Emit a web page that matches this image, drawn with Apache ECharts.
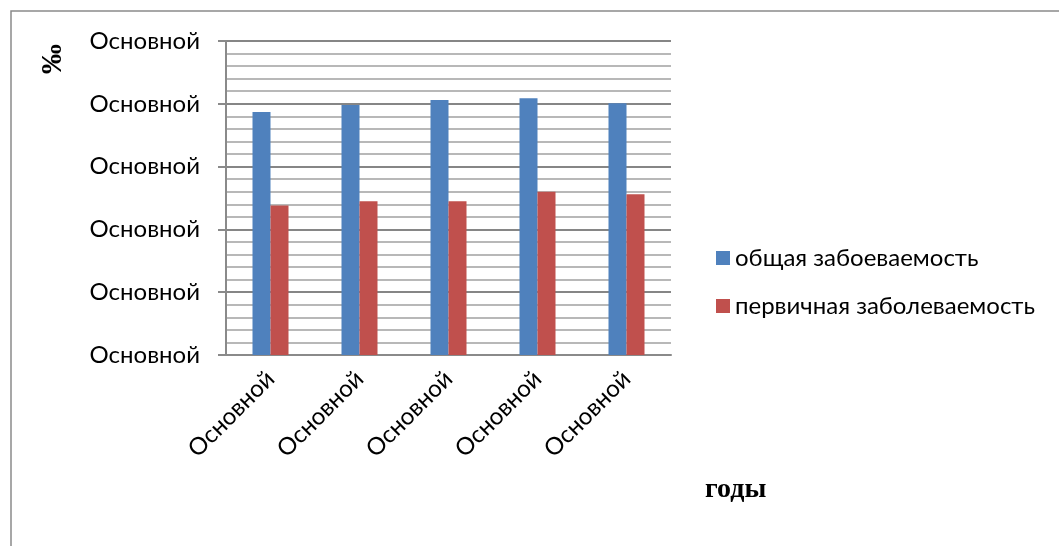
<!DOCTYPE html>
<html>
<head>
<meta charset="utf-8">
<script src="https://cdn.jsdelivr.net/npm/echarts@6/dist/echarts.min.js"></script>
<style>
    html, body { margin: 0; padding: 0; background: #fff; }
    #chart { width: 1059px; height: 546px; }
</style>
</head>
<body>
<div id="chart"></div>
<script>
    // категории (подписи в исходнике сломаны, везде "Основной")
    var years = ['Основной', 'Основной', 'Основной', 'Основной', 'Основной'];
    var obshaya = [3.87, 3.98, 4.06, 4.09, 4.01];
    var pervichnaya = [2.38, 2.45, 2.45, 2.60, 2.56];
    var yTickLabel = 'Основной';

    var chart = echarts.init(document.getElementById('chart'));
    var option = {
        animation: false,
        textStyle: {fontFamily: 'Lato'},
        graphic: [
            {
                type: 'rect',
                shape: {x: 11, y: 11, width: 1200, height: 700},
                style: {fill: 'none', stroke: '#8a8a8a', lineWidth: 1.5}
            },
            {
                type: 'text',
                x: 53, y: 59,
                rotation: Math.PI / 2,
                style: {
                    text: '‰', fill: '#000',
                    font: 'bold 30px "Liberation Serif"',
                    align: 'center', verticalAlign: 'middle'
                }
            },
            {
                type: 'text',
                left: 705, top: 476,
                style: {
                    text: 'годы', fill: '#000',
                    font: 'bold 28px "Liberation Serif"'
                }
            }
        ],
        legend: {
            orient: 'vertical',
            left: 711,
            top: 241,
            itemWidth: 14,
            itemHeight: 14,
            itemGap: 24,
            icon: 'rect',
            textStyle: {fontSize: 24, color: '#000', fontFamily: 'Lato'},
            data: ['общая забоеваемость', 'первичная заболеваемость']
        },
        grid: {left: 226, top: 41, width: 445, height: 314},
        xAxis: {
            type: 'category',
            data: years,
            axisLine: {lineStyle: {color: '#8a8a8a', width: 2}},
            axisTick: {show: false},
            axisLabel: {rotate: 45, fontSize: 24, color: '#000', margin: 20}
        },
        yAxis: {
            type: 'value',
            min: 0, max: 5, interval: 1,
            axisLine: {show: true, lineStyle: {color: '#8a8a8a', width: 2}},
            axisTick: {show: true, length: 8, lineStyle: {color: '#8a8a8a', width: 2}},
            axisLabel: {
                fontSize: 24, color: '#000', margin: 26,
                formatter: function () { return yTickLabel; }
            },
            splitLine: {lineStyle: {color: '#868686', width: 2}},
            minorTick: {show: false, splitNumber: 5},
            minorSplitLine: {show: true, lineStyle: {color: '#b8b8b8', width: 2}}
        },
        series: [
            {
                name: 'общая забоеваемость',
                type: 'bar',
                data: obshaya,
                barWidth: 18,
                barGap: '0%',
                itemStyle: {color: '#4F81BD'}
            },
            {
                name: 'первичная заболеваемость',
                type: 'bar',
                data: pervichnaya,
                barWidth: 18,
                barGap: '0%',
                itemStyle: {color: '#C0504D'}
            }
        ]
    };
    chart.setOption(option);
</script>
</body>
</html>
